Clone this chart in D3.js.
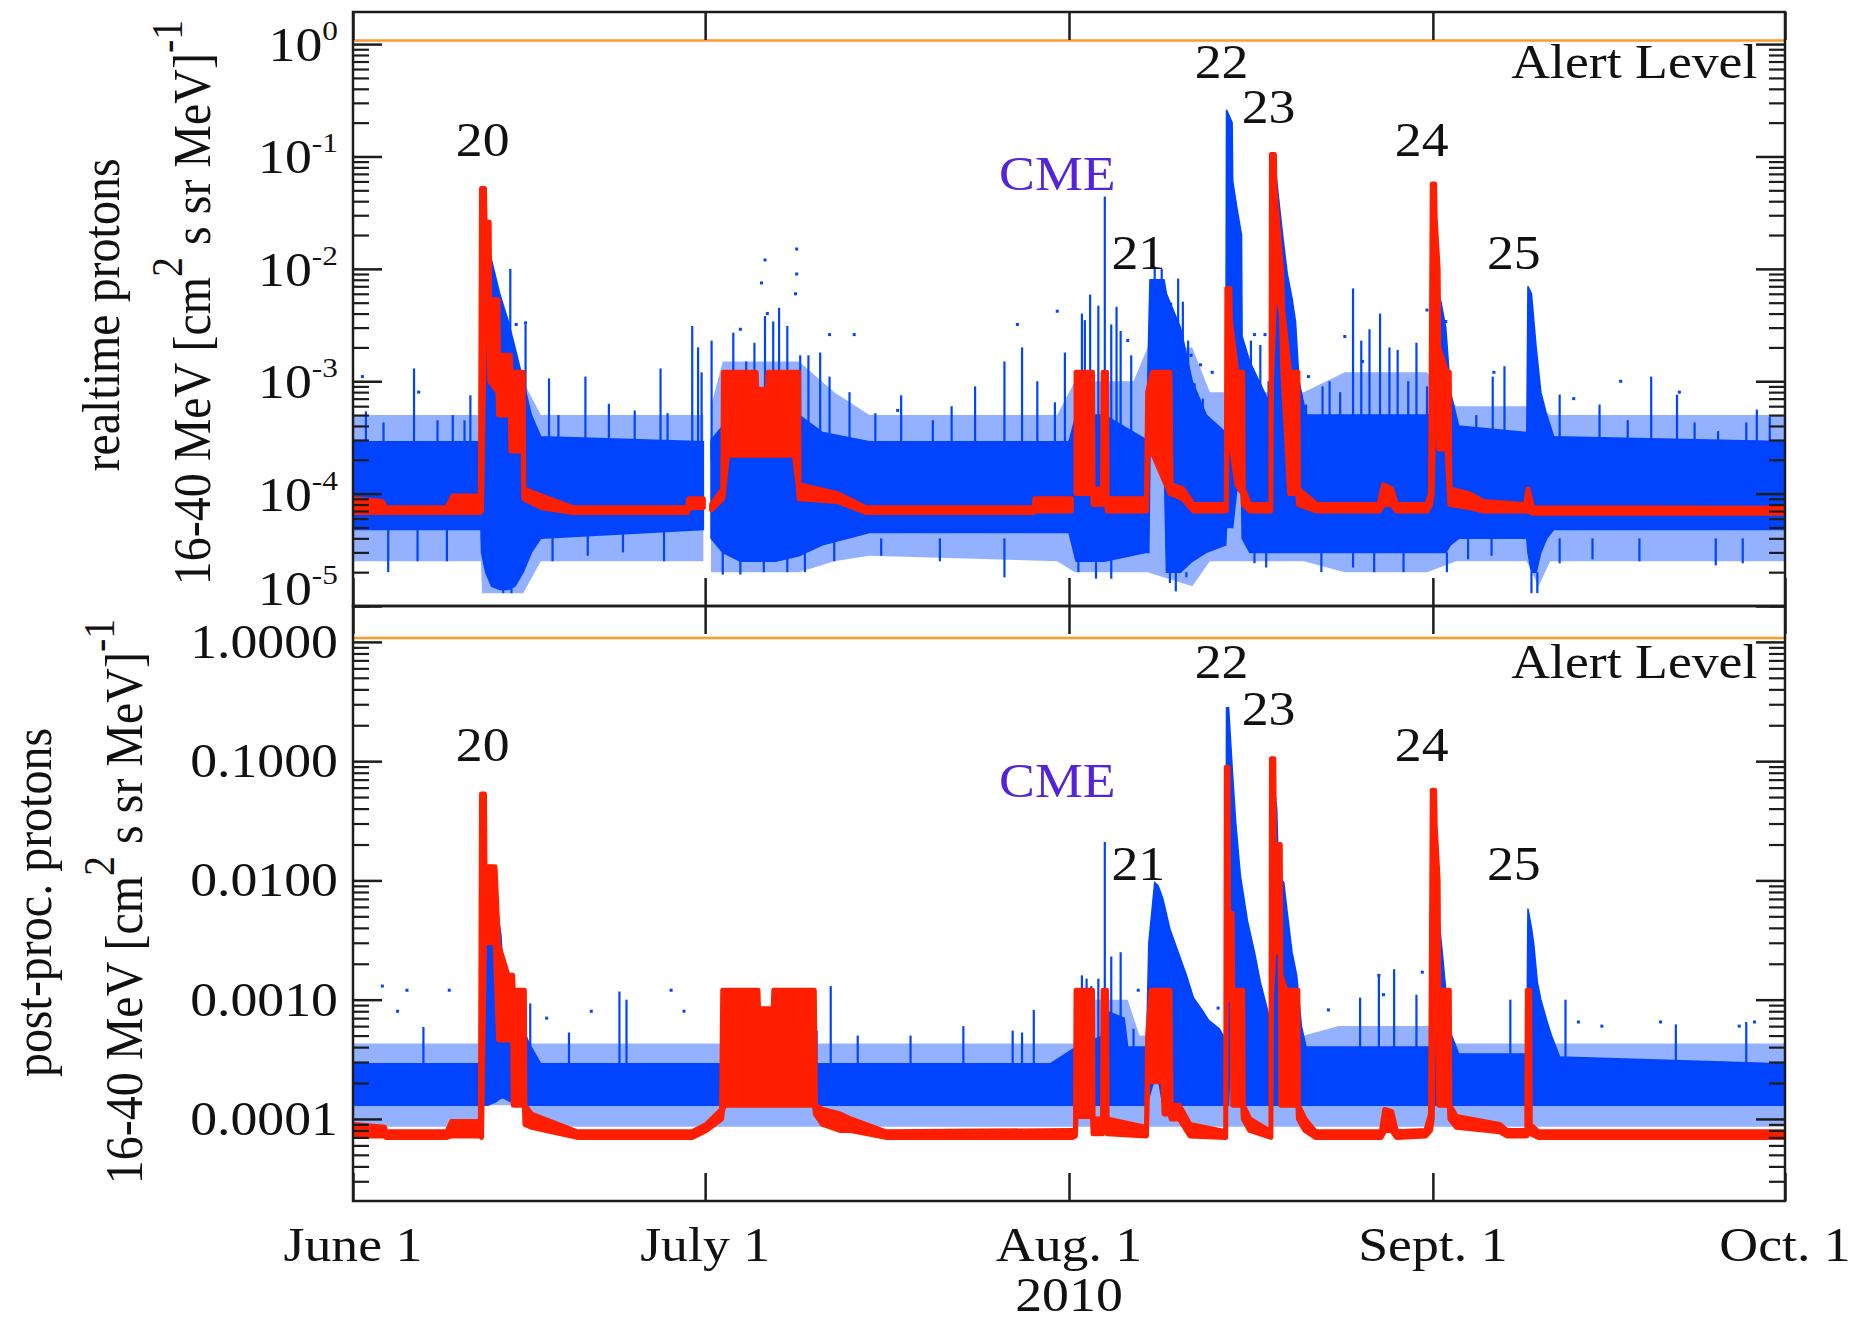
<!DOCTYPE html>
<html><head><meta charset="utf-8">
<script src="https://cdn.jsdelivr.net/npm/d3@7"></script>
<style>
body{margin:0;background:#fff}
svg{display:block}
text{font-family:"Liberation Serif","DejaVu Serif",serif;fill:#111}
</style>
</head><body>
<svg id="c" width="1856" height="1321"></svg>
<script>
// ---------------- DATA (days since 2010-06-01) ----------------
const monthTicks = [0, 30, 61, 92, 122];
const monthLabels = ["June 1", "July 1", "Aug. 1", "Sept. 1", "Oct. 1"];
const yearLabel = "2010";
const topTickValues = [1e-5, 1e-4, 1e-3, 1e-2, 1e-1, 1];
const topTickExp = ["-5", "-4", "-3", "-2", "-1", "0"];
const botTickValues = [1e-4, 1e-3, 1e-2, 1e-1, 1];
const botTickLabels = ["0.0001", "0.0010", "0.0100", "0.1000", "1.0000"];
const alertLevel = 1.077;
const eventLabels = [["20", 11.05, 0.1], ["21", 66.9, 0.01], ["22", 74.0, 0.5], ["23", 78.0, 0.2], ["24", 91.05, 0.1], ["25", 98.9, 0.01]];
const cmeLabel = ["CME", 60.0, 0.05];
const alertLabel = ["Alert Level", 119.65, 0.5];
const topTitle = ["realtime protons", "16-40 MeV [cm", "2", " s sr MeV]", "-1"];
const botTitle = ["post-proc. protons", "16-40 MeV [cm", "2", " s sr MeV]", "-1"];

// realtime protons: outer (sparse) blue envelope [day, low, high]
const topOuter = [
 [0,2.5e-5,5e-4],[10.9,2.5e-5,5e-4],[11,1.3e-5,1e-3],[14.5,1.3e-5,1e-3],[16,2.5e-5,5e-4],
 [29.85,2.5e-5,5e-4],null,[30.5,2e-5,6e-4],[31.5,2e-5,1.5e-3],[38,2e-5,1.5e-3],[41,2.5e-5,8e-4],
 [44,2.8e-5,5e-4],[60,2.5e-5,5e-4],[61.5,2e-5,1e-3],[66.5,2e-5,1e-3],[67.7,2e-5,2e-3],
 [71.5,1.5e-5,2e-3],[73,2.5e-5,8e-4],[81,2.5e-5,8e-4],[84.5,2e-5,1.2e-3],[91.5,2e-5,1.2e-3],
 [94,2.5e-5,6e-4],[100,2.5e-5,6e-4],[101,1.5e-5,6e-4],[102,2.5e-5,5e-4],[122,2.5e-5,5e-4]
];
// realtime protons: dense blue envelope [day, low, high]
const topCore = [
 [0,4.8e-5,2.9e-4],[10.9,4.8e-5,2.9e-4],[10.95,3e-5,1e-2],[11.3,2e-5,1.6e-2],[11.8,1.5e-5,1.2e-2],
 [12.5,1.4e-5,6e-3],[13.2,1.4e-5,3.5e-3],[13.8,1.5e-5,2e-3],[14.5,2e-5,1e-3],[15.2,3e-5,5e-4],
 [16.0,4e-5,3.2e-4],[29.85,4.8e-5,2.9e-4],null,
 [30.5,4e-5,3e-4],[31.5,3e-5,4e-4],[33,2.5e-5,5e-4],[36,2.5e-5,6e-4],[38,2.8e-5,5e-4],
 [40,3.5e-5,3.5e-4],[44,4.5e-5,2.9e-4],[61.0,4.5e-5,2.9e-4],[61.6,2.5e-5,5e-4],[64,2.5e-5,5e-4],
 [67.6,3e-5,3e-4],[67.8,3e-5,3e-3],[67.9,2.2e-4,8e-3],[69.1,2.2e-4,8e-3],[69.3,2e-5,6e-3],
 [70.5,2e-5,3e-3],[71.5,2.5e-5,1e-3],[72.7,3e-5,5e-4],[74.35,3.5e-5,3.5e-4],
 [74.42,5e-5,0.26],[74.9,5e-5,0.2],[74.95,5e-5,0.06],[75.3,1.1e-4,0.035],[75.7,1e-4,0.02],
 [75.75,4e-5,2.5e-3],[76.4,3e-5,1.5e-3],[78.2,3e-5,6e-4],[78.3,3e-5,0.05],[78.7,3e-5,0.06],
 [79.2,3e-5,0.02],[79.6,3e-5,9e-3],[80.0,3e-5,5.5e-3],[80.3,3e-5,3.4e-3],[80.6,3e-5,1e-3],
 [81.2,3e-5,5e-4],[91.9,3e-5,5e-4],[92.0,3e-5,2e-3],[92.3,3e-5,7e-3],[92.7,3e-5,5e-3],
 [93.1,3e-5,3e-3],[93.5,3.5e-5,8e-4],[94.2,4e-5,4e-4],[100.0,4e-5,3.5e-4],[100.1,3e-5,7e-3],
 [100.4,2e-5,6e-3],[100.8,2e-5,2e-3],[101.2,3e-5,8e-4],[101.7,4e-5,5e-4],[102.3,4.8e-5,3.2e-4],
 [122,4.8e-5,2.9e-4]
];
// realtime protons: individual blue excursions [day, from, to]
const topSpikes = [
 [1.1,2e-4,5.4e-4],[2.6,2e-4,4.3e-4],[5.2,2e-4,1.3e-3],[7.2,2e-4,4.5e-4],[8.5,2e-4,5e-4],
 [9.5,2e-4,4.5e-4],[10.0,2e-4,7.5e-4],[13.4,1e-3,1e-2],[14.7,5e-4,3.2e-3],[16.7,2e-4,1.06e-3],
 [17.5,2e-4,5e-4],[19.8,2e-4,1.1e-3],[21.8,2e-4,6.3e-4],[24.0,2e-4,5.5e-4],[26.2,2e-4,1.3e-3],
 [26.8,2e-4,5.2e-4],[28.9,2e-4,3.1e-3],[29.4,2e-4,2e-3],[29.7,2e-4,1.2e-3],[30.55,2e-4,2.3e-3],
 [32.4,3e-4,2.7e-3],[33.5,3e-4,1.5e-3],[34.2,3e-4,2.2e-3],[35.1,3e-4,3.8e-3],[35.8,3e-4,3.4e-3],
 [36.3,3e-4,4.5e-3],[37.0,3e-4,3.1e-3],[38.1,3e-4,1.7e-3],[38.8,3e-4,1.7e-3],[39.8,3e-4,1.8e-3],
 [40.6,2e-4,1.1e-3],[42.3,2e-4,8e-4],[44.5,2e-4,5.2e-4],[46.7,2e-4,7.5e-4],[49.4,2e-4,4.5e-4],
 [51.0,2e-4,6e-4],[53.0,2e-4,9e-4],[55.5,2e-4,1.5e-3],[57.0,2e-4,2e-3],[58.3,2e-4,1e-3],
 [59.8,2e-4,6.5e-4],[60.65,2e-4,1.8e-3],[61.6,3e-4,1.2e-3],[62.1,3e-4,4e-3],[62.35,3e-4,3.5e-3],
 [62.8,3e-4,5.9e-3],[63.5,3e-4,4.7e-3],[64.05,3e-4,0.044],[64.6,3e-4,3.2e-3],[65.05,3e-4,4.6e-3],
 [65.4,3e-4,2.8e-3],[66.3,2e-4,1.7e-3],[68.3,1e-3,1.05e-2],[68.9,1e-3,1e-2],[69.3,1e-3,5.9e-3],
 [69.7,1e-3,5e-3],[70.3,1e-3,8.2e-3],[70.7,1e-3,5.1e-3],[71.15,5e-4,2.3e-3],[71.7,3e-4,9.6e-4],
 [72.4,3e-4,7e-4],[76.5,5e-4,2.3e-3],[77.3,5e-4,2.1e-3],[78.0,3e-4,1e-3],[81.2,3e-4,6.2e-4],
 [82.6,3e-4,9e-4],[83.2,3e-4,1e-3],[84.1,3e-4,8e-4],[85.2,3e-4,6.7e-3],[85.9,3e-4,2.3e-3],
 [86.6,3e-4,2.9e-3],[87.5,3e-4,4e-3],[88.3,3e-4,2e-3],[89.0,3e-4,1.9e-3],[89.9,3e-4,1e-3],
 [90.6,3e-4,2.2e-3],[91.5,3e-4,9e-4],[95.7,2e-4,5e-4],[97.1,2e-4,1.1e-3],[98.1,2e-4,1.36e-3],
 [102.8,2e-4,7.6e-4],[106.2,2e-4,6.2e-4],[108.6,2e-4,4.5e-4],[110.6,2e-4,1.1e-3],[112.8,2e-4,7.6e-4],
 [114.3,2e-4,4.3e-4],[116.3,2e-4,3.6e-4],[118.7,2e-4,4.3e-4],[119.6,2e-4,5.6e-4],[120.7,2e-4,4.8e-4],
 [3.0,2e-5,5e-5],[5.5,2.5e-5,5e-5],[8.0,2.5e-5,5e-5],[12.8,1.3e-5,3e-5],[13.5,1.3e-5,3e-5],
 [17,2.5e-5,5e-5],[20,2.8e-5,5e-5],[23,3e-5,5e-5],[26.5,2.5e-5,5e-5],[31.5,1.9e-5,3e-5],
 [33,1.9e-5,3e-5],[35,2e-5,3e-5],[37,2e-5,3e-5],[38.5,2e-5,3e-5],[41,2.5e-5,4e-5],
 [45,2.8e-5,4e-5],[50,2.5e-5,4e-5],[55.5,1.8e-5,4e-5],[61.8,2e-5,3e-5],[63.3,1.75e-5,3e-5],
 [64.6,1.75e-5,3e-5],[69.6,1.6e-5,2e-5],[70.1,1.35e-5,2e-5],[71,1.8e-5,2e-5],[76.8,2.4e-5,3e-5],
 [77.8,2.2e-5,3e-5],[82.5,2e-5,3e-5],[85.2,2.2e-5,3e-5],[87,2e-5,3e-5],[89.5,2e-5,3e-5],
 [93.2,2e-5,3e-5],[95,2.6e-5,4e-5],[97,2.8e-5,4e-5],[100.4,1.3e-5,2e-5],[100.9,1.3e-5,2e-5],
 [102.8,2.4e-5,4e-5],[105.6,2.6e-5,4e-5],[109.6,2.5e-5,4e-5],[116.1,2.3e-5,4e-5],[118.4,2.4e-5,4e-5]
];
const topDots = [
 [0.8,1.1e-3],[5.6,8e-4],[13.9,3.2e-3],[14.7,3.3e-3],[33.0,2.9e-3],[34.8,7.5e-3],[35.1,1.2e-2],
 [35.3,4e-3],[37.7,6e-3],[37.8,9e-3],[37.8,1.5e-2],[40.6,2.6e-3],[42.7,2.6e-3],[46.4,5.5e-4],
 [56.6,3.2e-3],[60.0,4.2e-3],[66.0,2.3e-3],[71.4,1.7e-3],[72.2,1.4e-3],[73.2,1.2e-3],[76.8,2.6e-3],
 [77.7,2.6e-3],[80.5,1.1e-3],[81.4,1.1e-3],[84.5,2.5e-3],[86.0,1.5e-3],[91.5,4.3e-3],[93.1,3.4e-3],
 [97.2,1.2e-3],[104,7e-4],[108,1e-3],[113,8e-4]
];
// realtime protons: red series band [day, low, high]
const topRed = [
 [0,6.8e-5,9e-5],[2.5,6.8e-5,8.5e-5],[2.8,6.8e-5,7.5e-5],[8.0,6.8e-5,7.5e-5],[8.5,6.8e-5,9.5e-5],
 [10.85,6.8e-5,9.5e-5],[10.95,7e-5,0.052],[11.2,3e-3,0.052],[11.25,3e-3,0.026],[11.6,3e-3,0.026],
 [11.65,1e-3,5.3e-3],[12.35,8e-4,5.3e-3],[12.4,5e-4,1.7e-3],[13.4,5e-4,1.7e-3],[13.45,2.4e-4,1.2e-3],
 [14.5,2.4e-4,1.2e-3],[14.55,9e-5,1.1e-4],[16.1,7.5e-5,9.5e-5],[18.7,6.8e-5,7.5e-5],[28.5,6.8e-5,7.5e-5],
 [28.6,7.5e-5,9e-5],[29.85,7.5e-5,9e-5],null,
 [30.55,7.2e-5,8e-5],[31.5,9e-5,1.1e-4],[31.56,1e-4,1.2e-3],[31.9,2.2e-4,1.2e-3],[34.35,2.2e-4,1.2e-3],
 [34.4,2.2e-4,8.5e-4],[35.3,2.2e-4,8.5e-4],[35.35,2.2e-4,1.2e-3],[37.6,2.2e-4,1.2e-3],[37.96,1.1e-4,1.2e-3],
 [38.0,9e-5,1.2e-4],[41.3,8.5e-5,1e-4],[43.7,6.8e-5,7.5e-5],[58,6.8e-5,7.5e-5],[58.1,7e-5,9e-5],
 [61.2,7e-5,9e-5],null,
 [61.6,1e-4,1.2e-3],[63.0,1e-4,1.2e-3],[63.05,8e-5,1.1e-4],[63.85,8e-5,1.1e-4],[63.9,1e-4,1.2e-3],
 [64.2,1e-4,1.2e-3],[64.25,7e-5,9e-5],[67.6,7e-5,9e-5],[67.7,2.3e-4,8e-4],[68.1,2.3e-4,1.2e-3],
 [69.6,1e-4,1.2e-3],[69.7,1e-4,1.2e-4],[70.7,9e-5,1.1e-4],[71.6,7e-5,8e-5],[74.4,7e-5,8e-5],
 [74.45,3e-4,6.7e-3],[74.7,3e-4,6.7e-3],[74.75,3e-4,3.5e-3],[75.3,1.2e-4,1.2e-3],[75.8,1e-4,1.2e-3],
 [75.85,8e-5,1.1e-4],[76.4,7e-5,8e-5],[78.2,7e-5,8e-5],[78.25,1e-3,0.104],[78.5,5e-3,0.104],
 [78.55,8e-3,0.05],[79.1,4e-3,0.01],[79.2,1.3e-3,4.4e-3],[79.8,1e-4,1.2e-3],[80.5,1e-4,1.2e-3],
 [80.55,8e-5,1.1e-4],[82.1,7e-5,8e-5],[87.4,7e-5,8e-5],[87.8,8e-5,1.2e-4],[88.5,8e-5,1.1e-4],
 [88.9,7e-5,8e-5],[91.5,7e-5,8e-5],[91.8,8e-5,1e-4],[91.95,1e-4,0.057],[92.15,1e-3,0.057],
 [92.2,3e-3,0.028],[92.45,2e-3,0.01],[92.5,2.5e-4,2e-3],[93.2,2.5e-4,1.2e-3],[93.4,1e-4,1.2e-3],
 [93.45,8e-5,1.1e-4],[95.1,7.5e-5,1e-4],[96.3,7e-5,8.5e-5],[99.9,7e-5,8e-5],[100.1,7e-5,1.1e-4],
 [100.5,6.7e-5,7.5e-5],[122,6.7e-5,7.4e-5]
];

// post-processed protons
const botOuter = [
 [0,8.6e-5,4.3e-4],[10.9,8.6e-5,4.3e-4],[11,1.3e-4,4.3e-4],[14.5,1.3e-4,4.3e-4],[15,8.6e-5,4.3e-4],
 [61.5,8.6e-5,4.3e-4],[62,8.6e-5,1e-3],[66,8.6e-5,1e-3],[67,8.6e-5,5e-4],[81,8.6e-5,5e-4],
 [84,8.6e-5,6e-4],[92,8.6e-5,6e-4],[94,8.6e-5,4.3e-4],[122,8.6e-5,4.3e-4]
];
const botCore = [
 [0,1.3e-4,2.9e-4],[10.9,1.3e-4,2.9e-4],[10.95,1.3e-4,8.5e-3],[11.5,1.3e-4,8e-3],[12.2,1.4e-4,6.5e-3],
 [12.6,1.5e-4,3.5e-3],[12.8,1.5e-4,1.7e-3],[13.4,1.4e-4,1.2e-3],[14.4,1.3e-4,6e-4],[15.0,1.3e-4,4.3e-4],
 [16,1.3e-4,2.9e-4],[31.5,1.3e-4,2.9e-4],[33,1.3e-4,3.5e-4],[35,1.3e-4,4.5e-4],[37,1.3e-4,3.5e-4],
 [39,1.3e-4,2.9e-4],[59.4,1.3e-4,2.9e-4],[61.6,1.3e-4,4e-4],[63.9,1.3e-4,5e-4],[64.2,1.3e-4,8e-4],
 [65.7,1.3e-4,7e-4],[66,1.3e-4,4e-4],[67.6,1.3e-4,4e-4],[67.8,1.5e-4,3e-3],[68.3,2.2e-4,9.6e-3],
 [68.6,2.2e-4,9e-3],[69.0,1.3e-4,7e-3],[69.6,1.3e-4,3.9e-3],[70.3,1.3e-4,2.5e-3],[71.0,1.3e-4,1.6e-3],
 [71.6,1.3e-4,1.04e-3],[72.3,1.3e-4,8.3e-4],[72.9,1.3e-4,6.7e-4],[73.8,1.3e-4,5.7e-4],[74.35,1.3e-4,4.6e-4],
 [74.42,1.3e-4,0.28],[74.6,1.3e-4,0.28],[74.9,1e-3,0.089],[75.2,1.2e-3,0.031],[75.6,1.3e-4,1.1e-2],
 [76.2,1.3e-4,4.6e-3],[76.8,1.3e-4,2.5e-3],[77.3,1.3e-4,1.4e-3],[77.9,1.3e-4,8.3e-4],[78.2,1.3e-4,6e-4],
 [78.3,1.3e-4,0.03],[78.5,1.3e-4,0.059],[78.7,1.3e-4,0.04],[78.85,1.3e-4,0.011],[79.3,1.3e-4,9.6e-3],
 [79.6,1.3e-4,5.3e-3],[80.0,1.3e-4,2.5e-3],[80.4,1.3e-4,1.6e-3],[80.8,1.3e-4,6e-4],[81.2,1.3e-4,4e-4],
 [92.0,1.3e-4,4e-4],[92.1,1.3e-4,3e-3],[92.4,1.3e-4,6.1e-3],[92.8,1.3e-4,2.5e-3],[93.1,1.3e-4,1.2e-3],
 [93.6,1.3e-4,5e-4],[94.2,1.3e-4,3.5e-4],[100.0,1.3e-4,3.5e-4],[100.1,1.3e-4,5.8e-3],[100.4,1.3e-4,4e-3],
 [100.6,1.3e-4,2.9e-3],[100.9,1.3e-4,1.4e-3],[101.2,1.3e-4,1e-3],[101.7,1.3e-4,6.7e-4],[102.1,1.3e-4,5e-4],
 [102.8,1.3e-4,3.3e-4],[122,1.3e-4,2.9e-4]
];
const botSpikes = [
 [6.0,2.5e-4,5.9e-4],[15.1,2.5e-4,9.3e-4],[18.4,2.5e-4,5.3e-4],[22.7,2.5e-4,1.17e-3],[23.3,2.5e-4,1e-3],
 [39.5,2.5e-4,5.5e-4],[40.7,2.5e-4,1.3e-3],[43,2.5e-4,5e-4],[47.5,2.5e-4,5e-4],[52,2.5e-4,6e-4],
 [56.2,2.5e-4,5.5e-4],[57,2.5e-4,5.3e-4],[58,2.5e-4,8.2e-4],[62.1,3e-4,1.6e-3],[62.5,3e-4,1.5e-3],
 [62.9,3e-4,1.3e-3],[63.5,3e-4,1.5e-3],[64.05,3e-4,0.021],[64.6,3e-4,2.3e-3],[65.4,3e-4,2.5e-3],
 [66.5,3e-4,5.7e-4],[85.8,3e-4,1.04e-3],[87.4,3e-4,1.6e-3],[88.7,3e-4,1.8e-3],[90.6,3e-4,1.1e-3],
 [98.6,2.5e-4,1e-3],[103.3,2.5e-4,1e-3],[112.7,2.5e-4,6.2e-4],[118.7,2.5e-4,6.5e-4]
];
const botDots = [
 [2.5,1.3e-3],[3.8,8e-4],[4.6,1.2e-3],[8.2,1.2e-3],[16.5,7e-4],[20.3,8e-4],[27.1,1.2e-3],[28.2,8e-4],
 [66.9,1.2e-3],[73.7,8.5e-4],[83.1,8.2e-4],[87.4,1.6e-3],[87.8,1.1e-3],[91.1,1.7e-3],[104.4,6.5e-4],
 [106.4,6e-4],[111.4,6.5e-4],[118.1,6e-4],[119.4,6.5e-4]
];
const botRed = [
 [0,7.2e-5,9e-5],[2.7,7.2e-5,8.5e-5],[2.8,7e-5,7.8e-5],[8.0,7e-5,7.8e-5],[8.4,7.2e-5,9.5e-5],
 [10.85,7.2e-5,9.5e-5],[10.95,7e-5,0.053],[11.2,3e-3,0.053],[11.25,3e-3,0.013],[12.1,3e-3,0.013],
 [12.4,4.6e-4,2.9e-3],[13.2,4.6e-4,1.6e-3],[13.6,4.6e-4,1.6e-3],[13.65,1.3e-4,1.2e-3],[14.6,1.3e-4,1.2e-3],
 [14.65,9e-5,1.3e-4],[15.2,8.5e-5,1.1e-4],[19.1,7e-5,7.8e-5],[28.9,7e-5,7.8e-5],[30.1,8e-5,9e-5],
 [31.4,1e-4,1.2e-4],[31.5,1.2e-4,1.2e-3],[31.7,1.3e-4,1.2e-3],[34.5,1.3e-4,1.2e-3],[34.55,1.3e-4,8.4e-4],
 [35.8,1.3e-4,8.4e-4],[35.85,1.3e-4,1.2e-3],[39.3,1.3e-4,1.2e-3],[39.4,1.1e-4,1.3e-4],[40.0,9e-5,1.2e-4],
 [41.5,8e-5,1.1e-4],[42.4,8e-5,1e-4],[45.4,7e-5,7.8e-5],[61.3,7e-5,8e-5],[61.55,7.2e-5,8e-5],
 [61.6,1.05e-4,1.2e-3],[63.0,1.05e-4,1.2e-3],[63.05,7.5e-5,1e-4],[63.85,7.5e-5,1e-4],[63.9,1e-4,1.2e-3],
 [64.2,1e-4,1.2e-3],[64.25,7.5e-5,1e-4],[67.6,7.2e-5,8.5e-5],[67.7,2e-4,5e-4],[68.0,2.05e-4,1.2e-3],
 [69.0,2.05e-4,1.2e-3],[69.1,1.1e-4,1.2e-3],[69.6,1.1e-4,1.2e-3],[69.7,1e-4,1.3e-4],[70.4,1e-4,1.3e-4],
 [71.3,7.2e-5,9e-5],[74.35,7e-5,7.8e-5],[74.4,1e-3,0.089],[74.55,1e-3,0.089],[74.6,1.2e-3,5.3e-3],
 [74.9,1.2e-3,5.3e-3],[74.95,1.3e-4,1.2e-3],[75.8,1.3e-4,1.2e-3],[75.85,1e-4,1.3e-4],[76.4,8e-5,1e-4],
 [78.2,7e-5,7.8e-5],[78.25,1e-3,0.105],[78.45,2.5e-3,0.105],[78.5,2.5e-3,0.02],[79.0,2.5e-3,0.02],
 [79.05,1.3e-4,1.6e-3],[79.5,1.3e-4,1.2e-3],[80.5,1.3e-4,1.2e-3],[80.55,1e-4,1.3e-4],[81.1,8e-5,1e-4],
 [82,7e-5,7.8e-5],[87.6,7e-5,7.8e-5],[87.9,8e-5,1.2e-4],[88.5,8e-5,1.15e-4],[88.9,7e-5,7.8e-5],
 [91.4,7.2e-5,8e-5],[91.8,8e-5,1.1e-4],[91.95,1e-4,0.057],[92.15,2.5e-3,0.057],[92.2,2.5e-3,0.029],
 [92.45,2e-3,0.01],[92.5,1.3e-4,1.2e-3],[93.4,1.3e-4,1.2e-3],[93.45,1e-4,1.3e-4],[94.0,8.5e-5,1.05e-4],
 [97.7,7.8e-5,9e-5],[98.3,7.2e-5,8e-5],[100.0,7.2e-5,8e-5],[100.05,1.2e-4,1.2e-3],[100.25,1.2e-4,1.2e-3],
 [100.3,7.5e-5,9e-5],[101,7e-5,7.8e-5],[122,7e-5,7.8e-5]
];

// ---------------- DRAWING ----------------
const BLUE = "#0044ff", RED = "#ff1e00", ORANGE = "#ff9a2e", INK = "#1c1c1c", CME = "#5424dc";
const FONT = "'Liberation Serif','DejaVu Serif',serif";
const SX = 1.12, FS = 48;
const X0 = 353, X1 = 1785;
const svg = d3.select("#c");
const x = d3.scaleLinear().domain([0, 122]).range([X0, X1]);

const panels = [
  {id: "top", top: 12, bottom: 606, y: d3.scaleLog().domain([1e-5, 1.93]).range([606, 12]),
   outer: topOuter, core: topCore, spikes: topSpikes, dots: topDots, red: topRed, title: topTitle,
   t1x: 118.6, t1y: 315, t2x: 209.6, t2y: 302.5},
  {id: "bot", top: 606, bottom: 1201, y: d3.scaleLog().domain([2.05e-5, 2.0]).range([1201, 606]),
   outer: botOuter, core: botCore, spikes: botSpikes, dots: botDots, red: botRed, title: botTitle,
   t1x: 51.4, t1y: 902.5, t2x: 142.3, t2y: 901.5}
];

function stext(parent, tx, ty, anchor, size, extra) {
  return parent.append("text")
    .attr("transform", `translate(${tx},${ty}) scale(${SX},1)` + (extra || ""))
    .attr("font-family", FONT)
    .attr("text-anchor", anchor).style("font-size", size + "px");
}

panels.forEach((p, pi) => {
  const y = p.y;
  const clip = svg.append("clipPath").attr("id", "clip-" + p.id);
  clip.append("rect").attr("x", X0).attr("y", p.top).attr("width", X1 - X0).attr("height", p.bottom - p.top);
  const dg = svg.append("g").attr("clip-path", `url(#clip-${p.id})`);
  const band = d3.area().defined(d => d !== null).x(d => x(d[0])).y0(d => y(d[1])).y1(d => y(d[2]));

  dg.append("path").datum(p.outer).attr("d", band).attr("fill", BLUE).attr("fill-opacity", 0.42);
  dg.append("path").datum(p.core).attr("d", band).attr("fill", BLUE)
    .attr("stroke", BLUE).attr("stroke-width", 1.5);
  dg.append("g").selectAll("line").data(p.spikes).join("line")
    .attr("x1", d => x(d[0])).attr("x2", d => x(d[0]))
    .attr("y1", d => y(d[1])).attr("y2", d => y(d[2]))
    .attr("stroke", BLUE).attr("stroke-width", 2.2);
  dg.append("g").selectAll("rect").data(p.dots).join("rect")
    .attr("x", d => x(d[0]) - 1.5).attr("y", d => y(d[1]) - 1.5)
    .attr("width", 3).attr("height", 3).attr("fill", BLUE);
  dg.append("path").datum(p.red).attr("d", band).attr("fill", RED)
    .attr("stroke", RED).attr("stroke-width", 5).attr("stroke-linejoin", "round");
  dg.append("line").attr("x1", X0).attr("x2", X1)
    .attr("y1", y(alertLevel)).attr("y2", y(alertLevel))
    .attr("stroke", ORANGE).attr("stroke-width", 2.5);

  // axes (inward ticks)
  const majors = pi === 0 ? topTickValues : botTickValues;
  const minors = y.ticks().filter(v => !majors.some(m => Math.abs(m - v) / m < 1e-6));
  const styleAxis = (g, w) => { g.select(".domain").remove(); g.selectAll(".tick line").attr("stroke", INK).attr("stroke-width", w); g.selectAll(".tick text").remove(); };
  svg.append("g").attr("transform", `translate(${X0},0)`)
    .call(d3.axisLeft(y).tickValues(majors).tickSize(-29).tickSizeOuter(0)).call(g => styleAxis(g, 2.5));
  svg.append("g").attr("transform", `translate(${X0},0)`)
    .call(d3.axisLeft(y).tickValues(minors).tickSize(-16).tickSizeOuter(0)).call(g => styleAxis(g, 2.2));
  svg.append("g").attr("transform", `translate(${X1},0)`)
    .call(d3.axisRight(y).tickValues(majors).tickSize(-29).tickSizeOuter(0)).call(g => styleAxis(g, 2.5));
  svg.append("g").attr("transform", `translate(${X1},0)`)
    .call(d3.axisRight(y).tickValues(minors).tickSize(-16).tickSizeOuter(0)).call(g => styleAxis(g, 2.2));
  svg.append("g").attr("transform", `translate(0,${p.top})`)
    .call(d3.axisTop(x).tickValues(monthTicks).tickSize(-28).tickSizeOuter(0)).call(g => styleAxis(g, 2.5));
  svg.append("g").attr("transform", `translate(0,${p.bottom})`)
    .call(d3.axisBottom(x).tickValues(monthTicks).tickSize(-28).tickSizeOuter(0)).call(g => styleAxis(g, 2.5));

  // frame
  svg.append("rect").attr("x", X0).attr("y", p.top).attr("width", X1 - X0).attr("height", p.bottom - p.top)
    .attr("fill", "none").attr("stroke", INK).attr("stroke-width", 2.5);

  // tick labels
  if (pi === 0) {
    topTickValues.forEach((v, i) => {
      const t = stext(svg, 338, y(v) + (i === 0 ? -1 : 17), "end", FS);
      t.append("tspan").text("10");
      t.append("tspan").attr("dy", -21).style("font-size", "28px").text(topTickExp[i]);
    });
  } else {
    botTickValues.forEach((v, i) => {
      stext(svg, 338, y(v) + 16, "end", FS).text(botTickLabels[i]);
    });
  }

  // event annotations
  eventLabels.forEach(e => stext(svg, x(e[1]), y(e[2]), "middle", FS).text(e[0]));
  stext(svg, x(cmeLabel[1]), y(cmeLabel[2]), "middle", FS).text(cmeLabel[0]).style("fill", CME);
  stext(svg, x(alertLabel[1]), y(alertLabel[2]), "end", FS).text(alertLabel[0]);

  // y titles (rotated)
  stext(svg, p.t1x, p.t1y, "middle", FS, " rotate(-90)").text(p.title[0]);
  const t2 = stext(svg, p.t2x, p.t2y, "middle", FS, " rotate(-90)");
  t2.append("tspan").text(p.title[1]);
  t2.append("tspan").attr("dy", -25).style("font-size", "40px").text(p.title[2]);
  t2.append("tspan").attr("dy", 25).text(p.title[3]);
  t2.append("tspan").attr("dy", -25).style("font-size", "40px").text(p.title[4]);
});

// x labels
monthTicks.forEach((d, i) => stext(svg, x(d), 1261, "middle", FS).text(monthLabels[i]));
stext(svg, x(61), 1311, "middle", FS).text(yearLabel);
</script>
</body></html>
